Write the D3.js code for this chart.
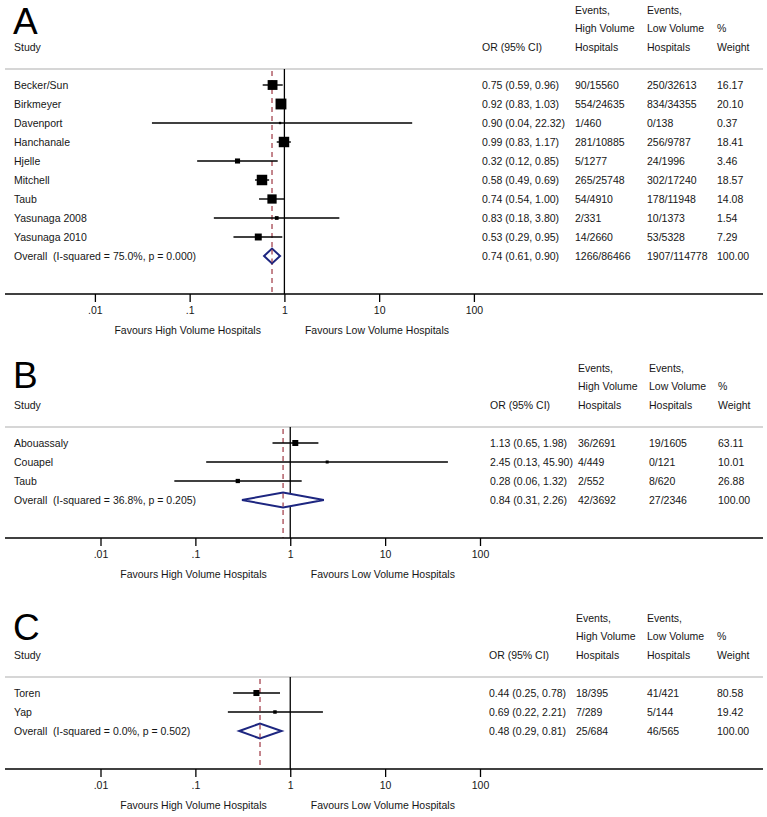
<!DOCTYPE html>
<html><head><meta charset="utf-8">
<script src="https://cdn.jsdelivr.net/npm/d3@7/dist/d3.min.js"></script>
<style>
html,body{margin:0;padding:0;background:#fff;}
svg text{font-family:"Liberation Sans",Arial,Helvetica,sans-serif;}
</style></head><body>
<svg id="chart" width="767" height="817"></svg>
<script>
// ---------- DATA ----------
const tickValues = [0.01, 0.1, 1, 10, 100];
const tickLabels = [".01", ".1", "1", "10", "100"];
const headerLines = [
  ["", "", "Events,", "Events,", ""],
  ["", "", "High Volume", "Low Volume", "%"],
  ["Study", "OR (95% CI)", "Hospitals", "Hospitals", "Weight"]
];
const favourLabels = ["Favours High Volume Hospitals", "Favours Low Volume Hospitals"];

// Panel A
const studiesA = ["Becker/Sun","Birkmeyer","Davenport","Hanchanale","Hjelle","Mitchell","Taub","Yasunaga 2008","Yasunaga 2010"];
const orA = [0.75,0.92,0.90,0.99,0.32,0.58,0.74,0.83,0.53];
const loA = [0.59,0.83,0.04,0.83,0.12,0.49,0.54,0.18,0.29];
const hiA = [0.96,1.03,22.32,1.17,0.85,0.69,1.00,3.80,0.95];
const eventsHighA = ["90/15560","554/24635","1/460","281/10885","5/1277","265/25748","54/4910","2/331","14/2660"];
const eventsLowA = ["250/32613","834/34355","0/138","256/9787","24/1996","302/17240","178/11948","10/1373","53/5328"];
const weightA = [16.17,20.10,0.37,18.41,3.46,18.57,14.08,1.54,7.29];
const overallA = {label:"Overall  (I-squared = 75.0%, p = 0.000)", or:0.74, lo:0.61, hi:0.90, high:"1266/86466", low:"1907/114778", weight:100.00};

// Panel B
const studiesB = ["Abouassaly","Couapel","Taub"];
const orB = [1.13,2.45,0.28];
const loB = [0.65,0.13,0.06];
const hiB = [1.98,45.90,1.32];
const eventsHighB = ["36/2691","4/449","2/552"];
const eventsLowB = ["19/1605","0/121","8/620"];
const weightB = [63.11,10.01,26.88];
const overallB = {label:"Overall  (I-squared = 36.8%, p = 0.205)", or:0.84, lo:0.31, hi:2.26, high:"42/3692", low:"27/2346", weight:100.00};

// Panel C
const studiesC = ["Toren","Yap"];
const orC = [0.44,0.69];
const loC = [0.25,0.22];
const hiC = [0.78,2.21];
const eventsHighC = ["18/395","7/289"];
const eventsLowC = ["41/421","5/144"];
const weightC = [80.58,19.42];
const overallC = {label:"Overall  (I-squared = 0.0%, p = 0.502)", or:0.48, lo:0.29, hi:0.81, high:"25/684", low:"46/565", weight:100.00};

// ---------- LAYOUT ----------
const panels = [
  {letter:"A", studies:studiesA, or:orA, lo:loA, hi:hiA, eh:eventsHighA, el:eventsLowA, w:weightA, overall:overallA,
   ruleY:69, letterY:33.5, range:[94.9,473.9], cols:[14,482,575,647,717], boxK:2.2},
  {letter:"B", studies:studiesB, or:orB, lo:loB, hi:hiB, eh:eventsHighB, el:eventsLowB, w:weightB, overall:overallB,
   ruleY:427, letterY:388, range:[100.5,480], cols:[14,490,578,649,718], boxK:0.63},
  {letter:"C", studies:studiesC, or:orC, lo:loC, hi:hiC, eh:eventsHighC, el:eventsLowC, w:weightC, overall:overallC,
   ruleY:677, letterY:640, range:[100.5,480], cols:[14,489,576,647,717], boxK:0.56}
];

const svg = d3.select("#chart");
svg.append("rect").attr("width",767).attr("height",817).attr("fill","#fff");
const fs = 10.5;
const rowStep = 19;
const navy = "#1d2680";
const dashRed = "#9e3642";
const txt = "#161616";

panels.forEach(p => {
  const g = svg.append("g");
  const x = d3.scaleLog().domain([0.01,100]).range(p.range);
  const n = p.studies.length;
  const rowY = i => p.ruleY + 16 + i*rowStep;
  const overallY = rowY(n);
  const axisY = overallY + 38;

  // panel letter
  g.append("text").attr("x",13).attr("y",p.letterY).attr("font-size",37).attr("fill","#000").text(p.letter);

  // headers
  headerLines.forEach((line,li) => {
    line.forEach((t,ci) => {
      if(!t) return;
      g.append("text").attr("x",p.cols[ci]).attr("y",p.ruleY - 59 + li*18.4 + 3.8)
        .attr("font-size",fs).attr("fill",txt).text(t);
    });
  });

  // header rule
  g.append("line").attr("x1",5).attr("x2",763).attr("y1",p.ruleY).attr("y2",p.ruleY)
    .attr("stroke","#c8c8c8").attr("stroke-width",1.5);

  // null line at 1
  g.append("line").attr("x1",x(1)).attr("x2",x(1)).attr("y1",p.ruleY).attr("y2",axisY)
    .attr("stroke","#000").attr("stroke-width",1.3);
  // overall dashed line
  g.append("line").attr("x1",x(p.overall.or)).attr("x2",x(p.overall.or)).attr("y1",p.ruleY+2).attr("y2",axisY)
    .attr("stroke",dashRed).attr("stroke-width",1.2).attr("stroke-dasharray","5,4");

  // rows
  p.studies.forEach((s,i) => {
    const y = rowY(i);
    g.append("line").attr("x1",x(p.lo[i])).attr("x2",x(p.hi[i])).attr("y1",y).attr("y2",y)
      .attr("stroke","#000").attr("stroke-width",1.4);
    const side = p.boxK*Math.sqrt(p.w[i]) + 1;
    g.append("rect").attr("x",x(p.or[i])-side/2).attr("y",y-side/2).attr("width",side).attr("height",side).attr("fill","#000");
    const vals = [s, `${p.or[i].toFixed(2)} (${p.lo[i].toFixed(2)}, ${p.hi[i].toFixed(2)})`, p.eh[i], p.el[i], p.w[i].toFixed(2)];
    vals.forEach((t,ci) => {
      g.append("text").attr("x",p.cols[ci]).attr("y",y+3.8).attr("font-size",fs).attr("fill",txt).text(t);
    });
  });

  // overall diamond
  const o = p.overall;
  const dh = 7.5;
  g.append("path")
    .attr("d",`M${x(o.lo)},${overallY} L${x(o.or)},${overallY-dh} L${x(o.hi)},${overallY} L${x(o.or)},${overallY+dh} Z`)
    .attr("fill","#fff").attr("stroke",navy).attr("stroke-width",2);
  g.append("line").attr("x1",x(o.or)).attr("x2",x(o.or)).attr("y1",overallY-dh+1).attr("y2",overallY+dh-1)
    .attr("stroke",dashRed).attr("stroke-width",1.2).attr("stroke-dasharray","5,4");
  const ovals = [o.label, `${o.or.toFixed(2)} (${o.lo.toFixed(2)}, ${o.hi.toFixed(2)})`, o.high, o.low, o.weight.toFixed(2)];
  ovals.forEach((t,ci) => {
    g.append("text").attr("x",p.cols[ci]).attr("y",overallY+3.8).attr("font-size",fs).attr("fill",txt)
      .style("white-space","pre").text(t);
  });

  // axis
  g.append("line").attr("x1",5).attr("x2",763).attr("y1",axisY).attr("y2",axisY)
    .attr("stroke","#000").attr("stroke-width",1.3);
  const axis = d3.axisBottom(x).tickValues(tickValues).tickFormat((d,i)=>tickLabels[i]).tickSize(8).tickPadding(5);
  const ag = g.append("g").attr("transform",`translate(0,${axisY})`).call(axis);
  ag.select(".domain").remove();
  ag.selectAll(".tick line").attr("stroke","#000").attr("stroke-width",1.3);
  ag.selectAll(".tick text").attr("font-size",fs).attr("fill",txt)
    .attr("font-family","'Liberation Sans',Arial,sans-serif");

  // favours labels
  g.append("text").attr("x",x(1)-23.5).attr("y",axisY+40).attr("text-anchor","end").attr("font-size",fs).attr("fill",txt).text(favourLabels[0]);
  g.append("text").attr("x",x(1)+20.5).attr("y",axisY+40).attr("text-anchor","start").attr("font-size",fs).attr("fill",txt).text(favourLabels[1]);
});
</script>
</body></html>
